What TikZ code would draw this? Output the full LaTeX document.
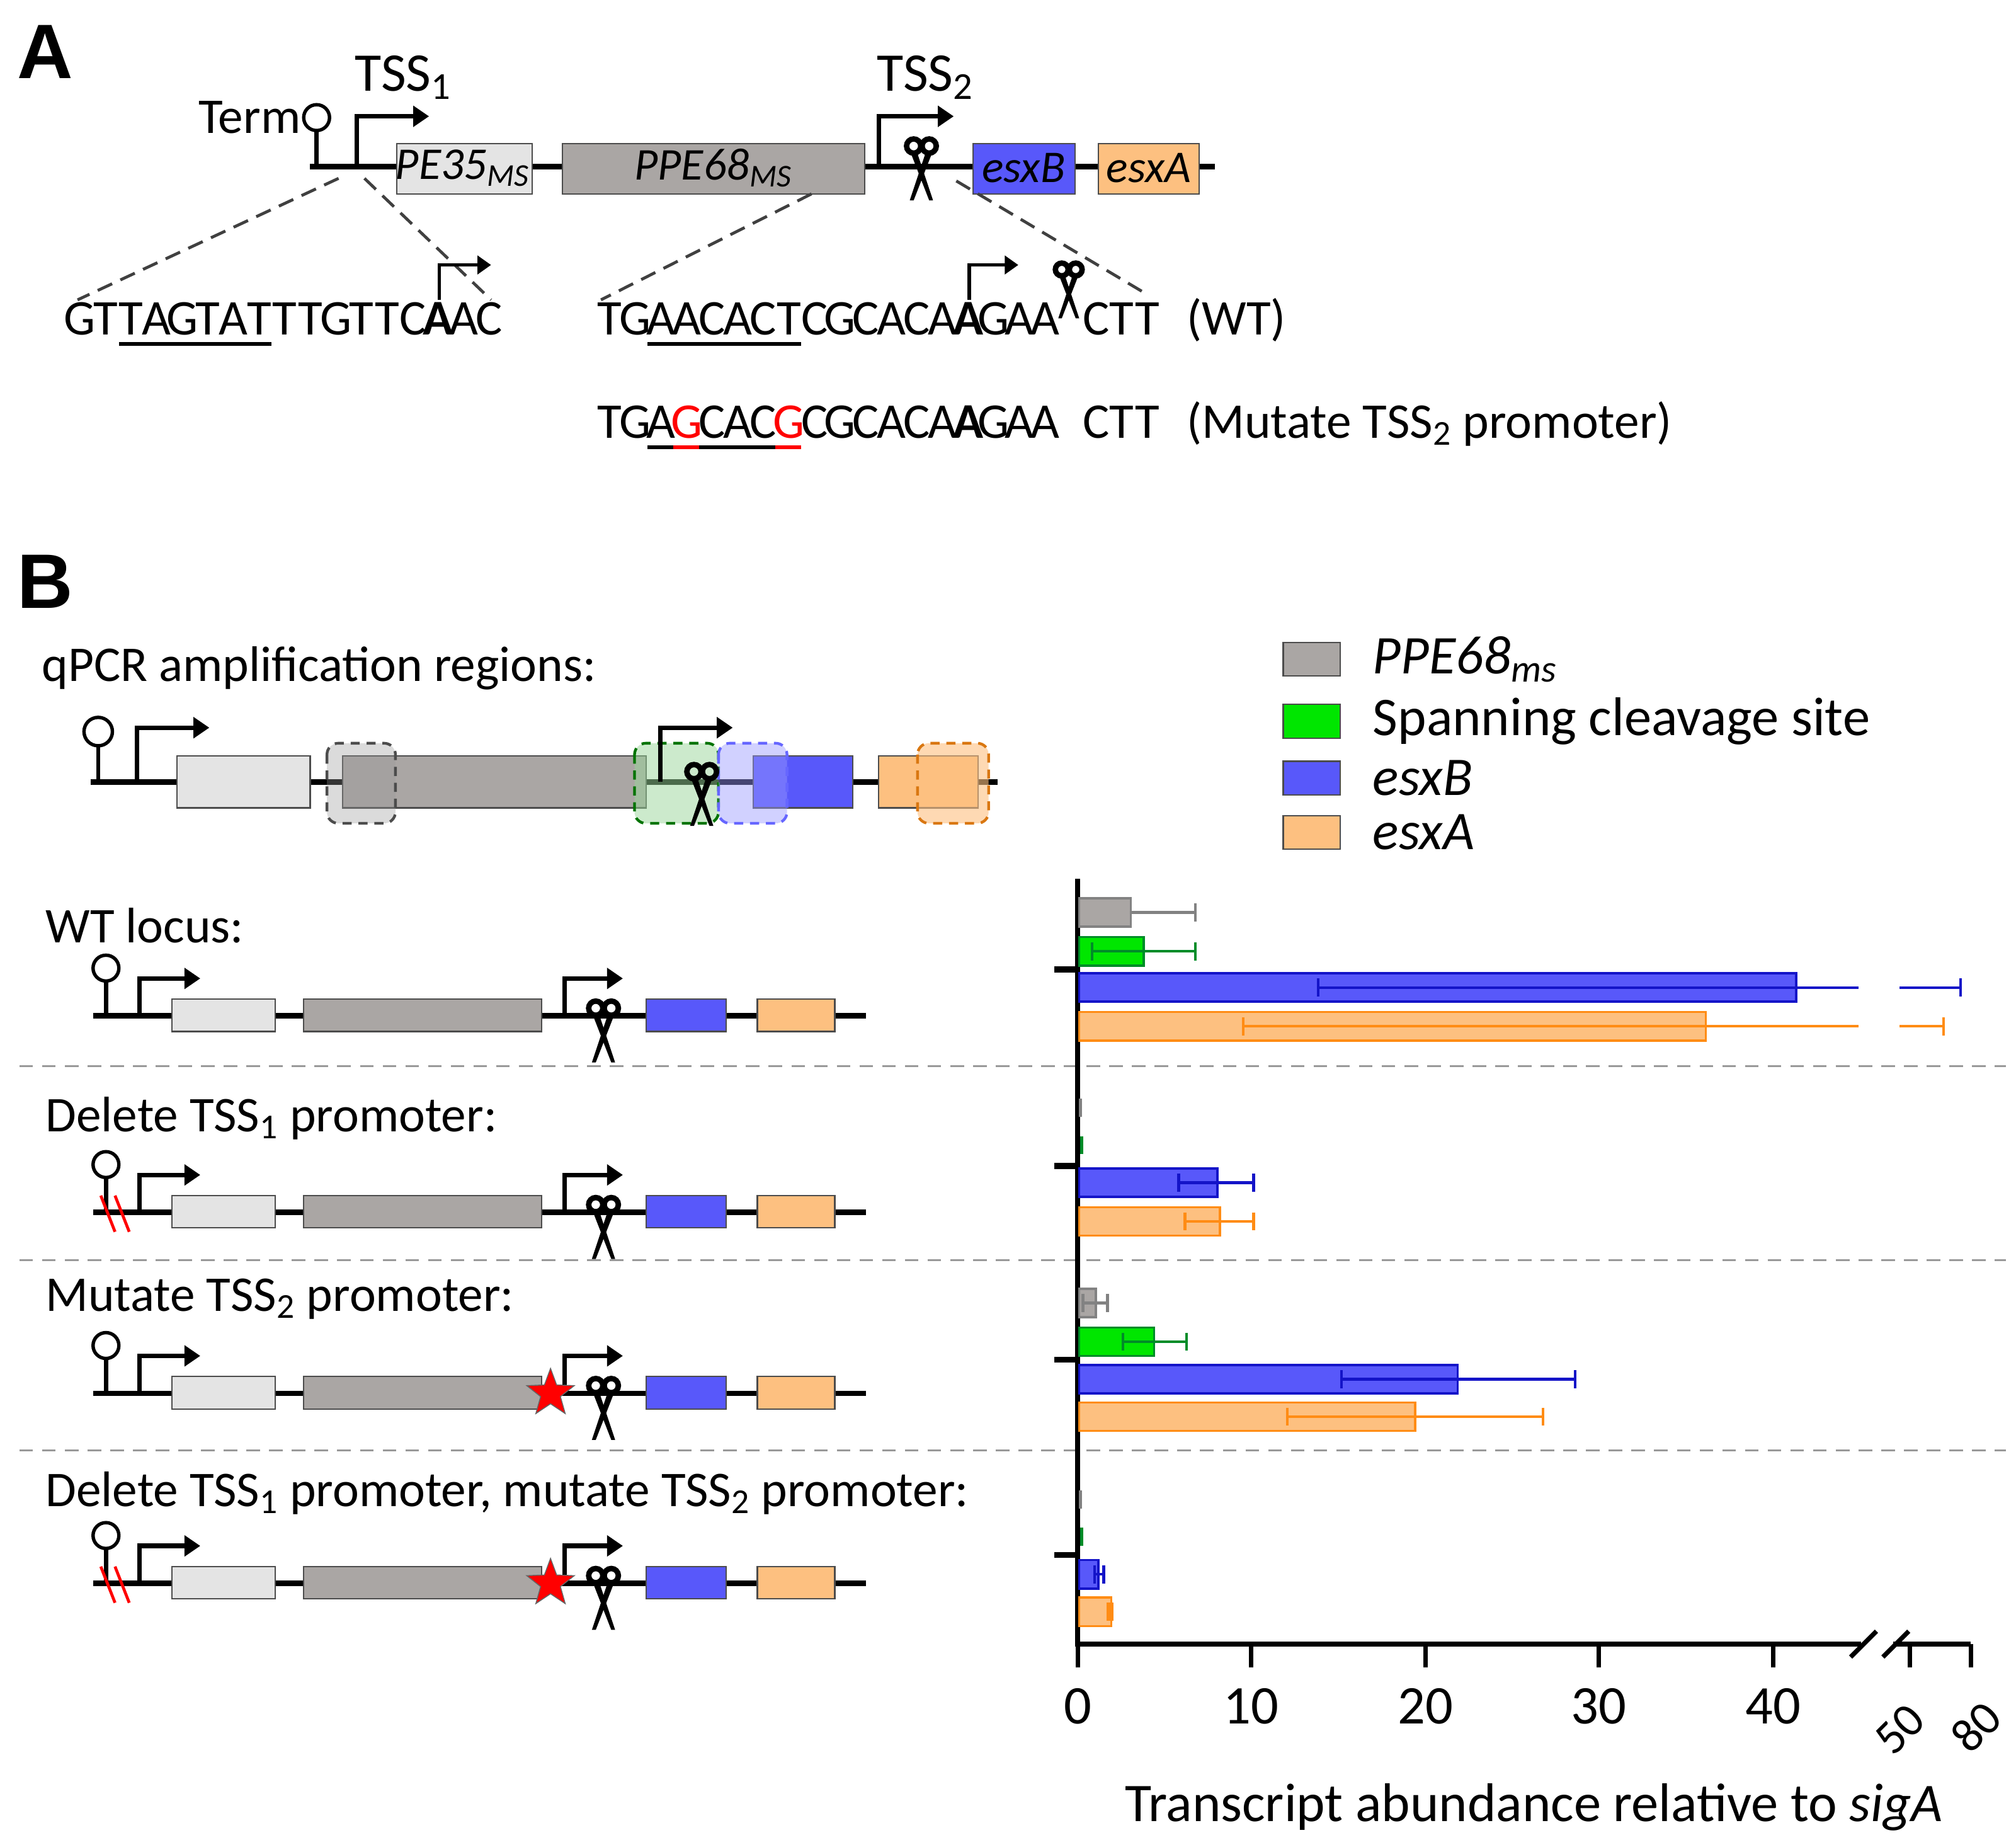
\documentclass[tikz,border=0pt]{standalone}
\usepackage{fontspec}
\setmainfont{Carlito}
\newfontfamily\hv{Liberation Sans}
\usetikzlibrary{arrows.meta,shapes.geometric}
\definecolor{gb}{RGB}{170,166,164}
\definecolor{lg}{RGB}{228,228,228}
\definecolor{bb}{RGB}{88,88,250}
\definecolor{ob}{RGB}{253,192,128}
\definecolor{gg}{RGB}{0,230,0}
\definecolor{ge}{RGB}{0,140,40}
\definecolor{be}{RGB}{20,20,200}
\definecolor{oe}{RGB}{255,140,20}
\definecolor{ga}{RGB}{130,130,130}
\tikzset{
 x=0.02cm,y=-0.02cm,
 dna/.style={line width=2.4pt},
 gene/.style={draw=black!70,line width=0.6pt},
 prom/.style={line width=2pt,-{Triangle[length=7pt,width=9pt]}},
 sprom/.style={line width=1.5pt,-{Triangle[length=6pt,width=8pt]}},
 zoomln/.style={dashed,line width=1.3pt,black!75,dash pattern=on 7pt off 4pt},
 sep/.style={dashed,line width=0.8pt,black!40,dash pattern=on 6pt off 4pt},
 lab/.style={font=\fontsize{22}{24}\selectfont,anchor=west,inner sep=0},
 seq/.style={font=\fontsize{22}{24}\selectfont,inner sep=0,anchor=base},
 hl/.style={rounded corners=5pt,dashed,line width=1.2pt,dash pattern=on 4pt off 3pt},
 bar/.style={line width=1pt},
 eb/.style={line width=1.2pt},
 scissors/.pic={
   \draw[line width=2.4pt] (-6,-15) circle[radius=5.5] (6,-15) circle[radius=5.5];
   \fill (-8,-9) -- (-3,-9) -- (9,27) -- (6,27) -- cycle;
   \fill (8,-9) -- (3,-9) -- (-9,27) -- (-6,27) -- cycle;
 },
 term/.pic={
   \draw[line width=1.8pt] (0,0) -- (0,-26);
   \draw[line width=1.5pt,fill=white] (0,-37) circle[radius=10];
 },
 redstar/.style={star,star points=5,star point ratio=2.4,fill=red,draw=black!60,inner sep=0,minimum size=22pt}
}
\newcommand{\locus}[3]{% y, deleted?, mutated?
 \draw[dna] (72,#1) -- (670,#1);
 \pic at (82,#1) {term};
 \draw[prom] (108,#1) -- (108,#1-29) -- (155,#1-29);
 \draw[gene,fill=lg] (133,#1-13) rectangle (213,#1+12);
 \draw[gene,fill=gb] (235,#1-13) rectangle (419,#1+12);
 \draw[prom] (437,#1) -- (437,#1-29) -- (482,#1-29);
 \draw[gene,fill=bb] (500,#1-13) rectangle (562,#1+12);
 \draw[gene,fill=ob] (586,#1-13) rectangle (646,#1+12);
 \pic at (467,#1+9) {scissors};
 \ifnum#2=1 \draw[red,line width=1.3pt] (78,#1-13) -- (89,#1+15) (89,#1-13) -- (100,#1+15);\fi
 \ifnum#3=1 \node[redstar] at (426,#1) {};\fi
}
\newcommand{\hbx}[4]{\draw[bar,draw=#4,fill=#3] (835,#1-11) rectangle (#2,#1+11);}
\newcommand{\errb}[4]{\draw[eb,#4] (#2,#1-7) -- (#2,#1+7) (#2,#1) -- (#3,#1) (#3,#1-7) -- (#3,#1+7);}
\begin{document}
\begin{tikzpicture}
\useasboundingbox (0,0) rectangle (1560,1423.5);
% ===== Panel A
\node[font=\hv\bfseries\fontsize{34}{36}\selectfont,inner sep=0] (A) at (35,40) {A};
\draw[dna] (240,129) -- (940,129);
\draw[line width=1.8pt] (245,129) -- (245,101);
\draw[line width=1.5pt,fill=white] (245,91) circle[radius=10];
\node[lab,anchor=east] (term) at (233,91) {Term};
\draw[prom] (276,129) -- (276,90) -- (332,90);
\node[lab,anchor=center,font=\fontsize{24}{26}\selectfont] (tss1) at (312,60) {TSS\textsubscript{1}};
\draw[gene,fill=lg] (307,111) rectangle (412,150);
\node[font=\itshape\fontsize{20}{22}\selectfont] (pe35) at (358,130) {PE35\textsubscript{MS}};
\draw[gene,fill=gb] (435,111) rectangle (669,150);
\node[font=\itshape\fontsize{20}{22}\selectfont] (ppe68) at (552,130) {PPE68\textsubscript{MS}};
\draw[prom] (680,129) -- (680,90) -- (738,90);
\node[lab,anchor=center,font=\fontsize{24}{26}\selectfont] (tss2) at (716,60) {TSS\textsubscript{2}};
\pic at (713,128) {scissors};
\draw[gene,fill=bb] (753,111) rectangle (832,150);
\node[font=\itshape\fontsize{20}{22}\selectfont] (esxBa) at (792,130) {esxB};
\draw[gene,fill=ob] (850,111) rectangle (928,150);
\node[font=\itshape\fontsize{20}{22}\selectfont] (esxAa) at (889,130) {esxA};
\draw[zoomln] (262,138) -- (60,232);
\draw[zoomln] (282,138) -- (380,232);
\draw[zoomln] (628,150) -- (465,232);
\draw[zoomln] (740,140) -- (888,228);
% sequences
\foreach \c [count=\i] in {G,T,T,A,G,T,A,T,T,T,G,T,T,C,{\textbf{A}},A,C}
  \node[seq] at ({52+19.8*\i-9.9},259) {\c};
\draw[line width=1.5pt] (92,266) -- (210,266);
\draw[sprom] (340,232) -- (340,205) -- (380,205);
\foreach \c [count=\i] in {T,G,A,A,C,A,C,T,C,G,C,A,C,A,{\textbf{A}},G,A,A,{},C,T,T}
  \node[seq] at ({462+19.8*\i-9.9},259) {\c};
\draw[line width=1.5pt] (501,266) -- (620,266);
\draw[sprom] (750,232) -- (750,205) -- (788,205);
\pic[scale=0.9] at (827,222) {scissors};
\node[lab,anchor=base west] (wt) at (918,259) {(WT)};
\foreach \c [count=\i] in {T,G,A,{\color{red}G},C,A,C,{\color{red}G},C,G,C,A,C,A,{\textbf{A}},G,A,A,{},C,T,T}
  \node[seq] at ({462+19.8*\i-9.9},339) {\c};
\draw[line width=1.5pt] (501,346) -- (620,346);
\draw[red,line width=1.5pt] (521,346) -- (541,346) (600,346) -- (620,346);
\node[lab,anchor=base west] (mut) at (918,339) {(Mutate TSS\textsubscript{2} promoter)};
% ===== Panel B
\node[font=\hv\bfseries\fontsize{34}{36}\selectfont,inner sep=0] (B) at (35,450) {B};
\node[lab] (qpcr) at (32,517) {qPCR amplification regions:};
\draw[dna] (70,605) -- (772,605);
\draw[line width=1.8pt] (76,605) -- (76,577);
\draw[line width=1.5pt,fill=white] (76,566) circle[radius=11];
\draw[prom] (106,605) -- (106,563) -- (162,563);
\draw[gene,fill=lg] (137,585) rectangle (240,625);
\draw[gene,fill=gb] (265,585) rectangle (500,625);
\draw[gene,fill=bb] (583,585) rectangle (660,625);
\draw[gene,fill=ob] (680,585) rectangle (757,625);
\draw[hl,draw=black!70,fill=black!40,fill opacity=0.35] (253,575) rectangle (306,637);
\draw[hl,draw=green!45!black,fill=green!60!black!40,fill opacity=0.5] (491,575) rectangle (556,637);
\draw[hl,draw=blue!60,fill=blue!40,fill opacity=0.45] (556,575) rectangle (609,637);
\draw[hl,draw=oe!85!black,fill=ob,fill opacity=0.6] (710,575) rectangle (765,637);
\draw[prom] (511,605) -- (511,563) -- (567,563);
\pic at (543,612) {scissors};
% legend
\draw[gene,fill=gb] (993,497) rectangle (1037,523);
\node[lab,font=\fontsize{24}{26}\selectfont] (l1) at (1062,510) {\textit{PPE68\textsubscript{ms}}};
\draw[gene,fill=gg] (993,545) rectangle (1037,571);
\node[lab,font=\fontsize{24}{26}\selectfont] (l2) at (1062,558) {Spanning cleavage site};
\draw[gene,fill=bb] (993,589) rectangle (1037,615);
\node[lab,font=\fontsize{24}{26}\selectfont] (l3) at (1062,602) {\textit{esxB}};
\draw[gene,fill=ob] (993,631) rectangle (1037,657);
\node[lab,font=\fontsize{24}{26}\selectfont] (l4) at (1062,644) {\textit{esxA}};
% loci
\node[lab] (r1) at (35,716) {WT locus:};
\locus{786}{0}{0}
\node[lab] (r2) at (35,865) {Delete TSS\textsubscript{1} promoter:};
\locus{938}{1}{0}
\node[lab] (r3) at (35,1005) {Mutate TSS\textsubscript{2} promoter:};
\locus{1078}{0}{1}
\node[lab] (r4) at (35,1155) {Delete TSS\textsubscript{1} promoter, mutate TSS\textsubscript{2} promoter:};
\locus{1225}{1}{1}
\foreach \yy in {825,975,1122} \draw[sep] (15,\yy) -- (1552,\yy);
% chart axes
\draw[line width=2.2pt] (834,680) -- (834,1272) -- (1440,1272);
\draw[line width=2.2pt] (1465,1272) -- (1525,1272);
\draw[line width=2pt] (1432,1282) -- (1452,1262) (1457,1282) -- (1477,1262);
\foreach \yy in {750,902,1052,1203} \draw[line width=2.6pt] (816,\yy) -- (834,\yy);
\foreach \xx/\t in {834/0,968/10,1103/20,1237/30,1372/40} {
  \draw[line width=2pt] (\xx,1272) -- (\xx,1290);
  \node[font=\fontsize{24}{26}\selectfont] at (\xx,1320) {\t};}
\draw[line width=2pt] (1478,1272) -- (1478,1290) (1525,1272) -- (1525,1290);
\node[font=\fontsize{21}{23}\selectfont,rotate=45,inner sep=0] (t50) at (1470,1338) {50};
\node[font=\fontsize{21}{23}\selectfont,rotate=45,inner sep=0] (t80) at (1529,1336) {80};
\node[font=\fontsize{24}{26}\selectfont] (xlab) at (1187,1398) {Transcript abundance relative to \textit{sigA}};
% WT
\hbx{706}{875}{gb}{ga} \draw[eb,ga] (875,706) -- (925,706) (925,699) -- (925,713);
\hbx{736}{885}{gg}{ge} \errb{736}{845}{925}{ge}
\hbx{764}{1390}{bb}{be} \draw[eb,be] (1020,757) -- (1020,771) (1020,764) -- (1438,764) (1470,764) -- (1517,764) (1517,757) -- (1517,771);
\hbx{794}{1320}{ob}{oe} \draw[eb,oe] (962,787) -- (962,801) (962,794) -- (1438,794) (1470,794) -- (1504,794) (1504,787) -- (1504,801);
% Del TSS1
\draw[line width=1.5pt,ga] (836,850) -- (836,864);
\draw[line width=1.5pt,ge] (837,879) -- (837,893);
\hbx{915}{942}{bb}{be} \errb{915}{912}{970}{be}
\hbx{945}{944}{ob}{oe} \errb{945}{917}{970}{oe}
% Mutate
\hbx{1008}{848}{gb}{ga} \errb{1008}{838}{857}{ga}
\hbx{1038}{893}{gg}{ge} \errb{1038}{869}{918}{ge}
\hbx{1067}{1128}{bb}{be} \errb{1067}{1038}{1219}{be}
\hbx{1096}{1095}{ob}{oe} \errb{1096}{996}{1194}{oe}
% Both
\draw[line width=1.5pt,ga] (836,1153) -- (836,1167);
\draw[line width=1.5pt,ge] (837,1182) -- (837,1196);
\hbx{1218}{850}{bb}{be} \errb{1218}{847}{854}{be}
\hbx{1247}{860}{ob}{oe} \draw[line width=3pt,oe] (859,1240) -- (859,1254);
\end{tikzpicture}
\end{document}
